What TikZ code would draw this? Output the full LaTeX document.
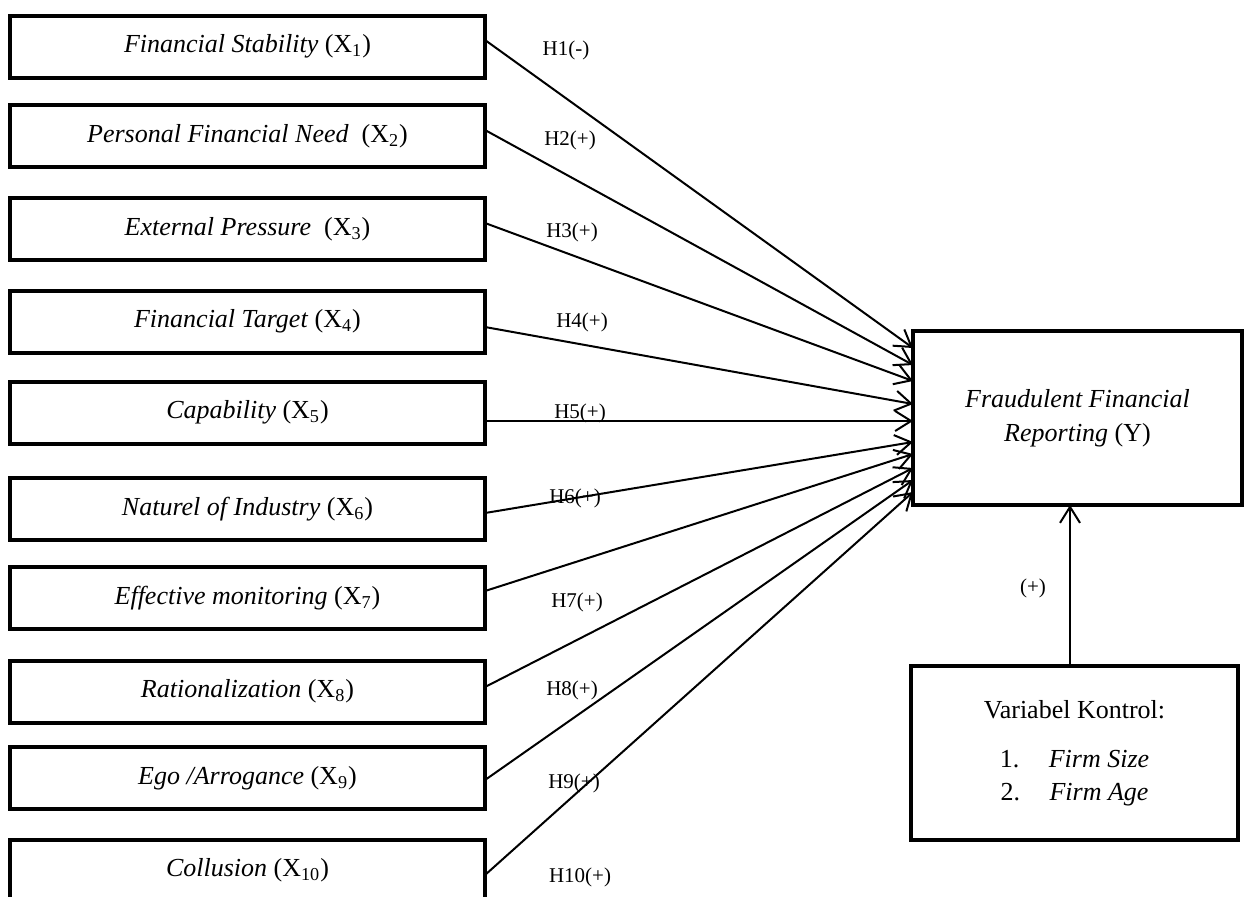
\documentclass[tikz,border=0pt]{standalone}
\usepackage{fontspec}
\setmainfont{Liberation Serif}
\usetikzlibrary{arrows.meta,calc}
\begin{document}
\begin{tikzpicture}[x=0.5pt,y=-0.5pt,
  vbox/.style={draw,line width=2pt,minimum width=237.5pt,minimum height=31pt,inner sep=0pt,outer sep=0pt,font=\fontsize{13}{16}\selectfont},
  bigbox/.style={draw,line width=2pt,inner sep=0pt,outer sep=0pt,align=center,font=\fontsize{13}{17}\selectfont},
  arr/.style={line width=1pt,-{Straight Barb[length=8pt,width=10pt]}},
  hlab/.style={font=\fontsize{10.5}{12}\selectfont,inner sep=0pt}]
\useasboundingbox (0,0) rectangle (1245,896);
% left boxes
\node[vbox] (b1) at (247.5,46.5) {\textit{Financial Stability} (X\textsubscript{1})};
\node[vbox] (b2) at (247.5,136) {\textit{Personal Financial Need}\ \ (X\textsubscript{2})};
\node[vbox] (b3) at (247.5,229) {\textit{External Pressure}\ \ (X\textsubscript{3})};
\node[vbox] (b4) at (247.5,321.5) {\textit{Financial Target} (X\textsubscript{4})};
\node[vbox] (b5) at (247.5,412.5) {\textit{Capability} (X\textsubscript{5})};
\node[vbox] (b6) at (247.5,509) {\textit{Naturel of Industry} (X\textsubscript{6})};
\node[vbox] (b7) at (247.5,598) {\textit{Effective monitoring} (X\textsubscript{7})};
\node[vbox] (b8) at (247.5,691.5) {\textit{Rationalization} (X\textsubscript{8})};
\node[vbox] (b9) at (247.5,778) {\textit{Ego /Arrogance} (X\textsubscript{9})};
\node[vbox,minimum height=30.5pt] (b10) at (247.5,870.5) {\textit{Collusion} (X\textsubscript{10})};
% dependent
\node[bigbox,minimum width=164.5pt,minimum height=87pt] (Y) at (1077.5,418)
  {\textit{Fraudulent Financial}\\\textit{Reporting} (Y)};
% control
\node[bigbox,minimum width=163.5pt,minimum height=87pt] (K) at (1074.5,753)
  {Variabel Kontrol:\\[7.5pt]
   \makebox[24.5pt][l]{1.}\textit{Firm Size}\\[-0.5pt]
   \makebox[24.5pt][l]{2.}\textit{Firm Age}};
% connectors
\draw[arr] ($(b1.east)+(0,-6.5)$) -- ($(Y.west)+(0,-70)$);
\draw[arr] ($(b2.east)+(0,-6)$) -- ($(Y.west)+(0,-53)$);
\draw[arr] ($(b3.east)+(0,-6)$) -- ($(Y.west)+(0,-37)$);
\draw[arr] ($(b4.east)+(0,5.5)$) -- ($(Y.west)+(0,-14)$);
\draw[arr] ($(b5.east)+(0,8.5)$) -- ($(Y.west)+(0,3)$);
\draw[arr] ($(b6.east)+(0,4)$) -- ($(Y.west)+(0,24)$);
\draw[arr] ($(b7.east)+(0,-7)$) -- ($(Y.west)+(0,36)$);
\draw[arr] ($(b8.east)+(0,-4.5)$) -- ($(Y.west)+(0,50)$);
\draw[arr] ($(b9.east)+(0,2)$) -- ($(Y.west)+(0,62)$);
\draw[arr] ($(b10.east)+(0,4.5)$) -- ($(Y.west)+(0,74)$);
\draw[arr] ($(K.north)+(-4.5,0)$) coordinate (kt) -- (kt |- Y.south);
% labels
\node[hlab] (h1) at (566,50) {H1(-)};
\node[hlab] (h2) at (570,140) {H2(+)};
\node[hlab] (h3) at (572,232) {H3(+)};
\node[hlab] (h4) at (582,322) {H4(+)};
\node[hlab] (h5) at (580,413) {H5(+)};
\node[hlab] (h6) at (575,498) {H6(+)};
\node[hlab] (h7) at (577,602) {H7(+)};
\node[hlab] (h8) at (572,690) {H8(+)};
\node[hlab] (h9) at (574,783) {H9(+)};
\node[hlab] (h10) at (580,877) {H10(+)};
\node[hlab] (hk) at (1033,588) {(+)};
\end{tikzpicture}
\end{document}
